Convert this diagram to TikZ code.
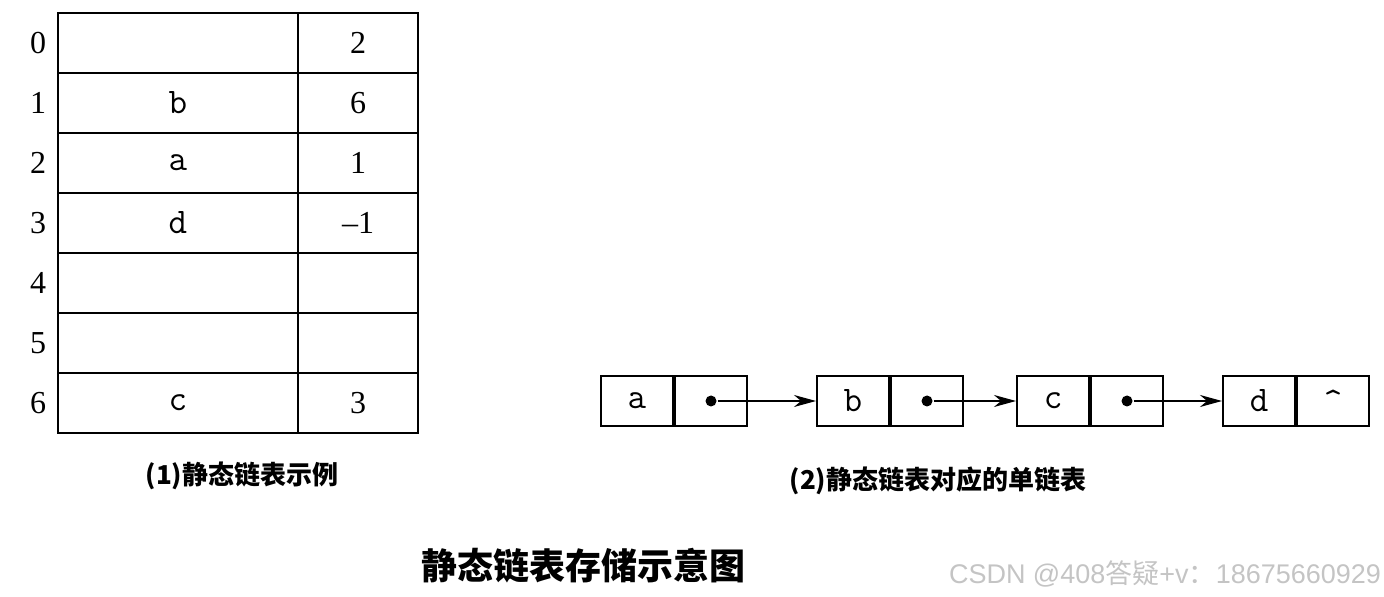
\documentclass[tikz,border=0pt]{standalone}
\usepackage{fontspec}
\setmainfont{Liberation Serif}
\newfontfamily\cjk{Noto Sans CJK SC}
\newfontfamily\wmfont{Liberation Sans}
\usepackage{tikz}
\usetikzlibrary{arrows.meta,positioning}
\definecolor{wmgray}{HTML}{C4C4C4}
\newcommand{\capfont}{\cjk\bfseries\fontsize{13pt}{15pt}\selectfont}

\begin{document}
\begin{tikzpicture}[
      x=0.5pt,y=-0.5pt,
      line width=1pt,
      datacell/.style={draw,minimum width=120pt,minimum height=30pt,inner sep=0pt,font=\ttfamily\fontsize{18pt}{20pt}\selectfont},
      nextcell/.style={draw,minimum width=60pt,minimum height=30pt,inner sep=0pt,font=\fontsize{16pt}{18pt}\selectfont},
      idx/.style={inner sep=0pt,font=\fontsize{16pt}{18pt}\selectfont},
      half/.style={draw,minimum width=36pt,minimum height=25pt,inner sep=0pt,font=\ttfamily\fontsize{18pt}{20pt}\selectfont},
      arrow/.style={-{Stealth[length=11pt,width=6pt,inset=3.5pt]},line width=0.8pt},
      dot/.style={circle,fill,inner sep=0pt,minimum size=5.5pt}
    ]
    \useasboundingbox (0,0) rectangle (1384,597);
    % static list table
    \foreach \i/\d/\n in {0//2,1/b/6,2/a/1,3/d/–1,4//,5//,6/c/3}{
      \node[datacell] (data\i) at (178,{43+60*\i}) {\d};
      \node[nextcell] (next\i) at (358,{43+60*\i}) {\n};
      \node[idx] (idx\i) at (38,{43+60*\i}) {\i};
    }
    \node[font=\capfont] (cap1) at (242,476) {(1)静态链表示例};
    % singly linked list
    \node[half] (na) at (637,401) {a};
    \node[half,right=0pt of na] (pa) {};
    \node[half] (nb) at (853,401) {b};
    \node[half,right=0pt of nb] (pb) {};
    \node[half] (nc) at (1053,401) {c};
    \node[half,right=0pt of nc] (pc) {};
    \node[half] (nd) at (1259,401) {d};
    \node[half,right=0pt of nd] (pd) {\textasciicircum};
    \node[dot] (da) at (pa.center) {};
    \node[dot] (db) at (pb.center) {};
    \node[dot] (dc) at (pc.center) {};
    \draw[arrow] (da) -- (nb.west);
    \draw[arrow] (db) -- (nc.west);
    \draw[arrow] (dc) -- (nd.west);
    \node[font=\capfont] (cap2) at (938,481) {(2)静态链表对应的单链表};
    % title and watermark
    \node[font=\cjk\bfseries\fontsize{18pt}{21pt}\selectfont] (title) at (583,566) {静态链表存储示意图};
    \node[anchor=west,inner sep=0pt,text=wmgray,font=\wmfont\fontsize{13.5pt}{16pt}\selectfont] (mark) at (948,574) {CSDN @408{\cjk 答疑}+v{\cjk ：}18675660929};
  \end{tikzpicture}
\end{document}
